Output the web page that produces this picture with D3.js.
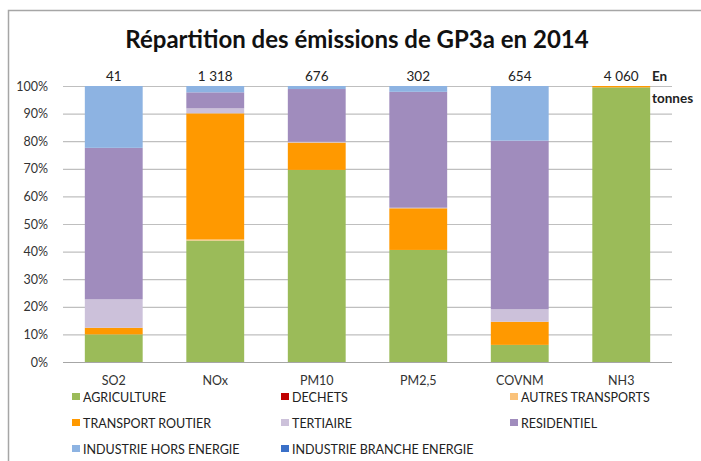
<!DOCTYPE html>
<html>
<head>
<meta charset="utf-8">
<script src="https://d3js.org/d3.v7.min.js"></script>
<style>
  body { margin: 0; background: #fff; }
  text { font-family: Lato, "Open Sans", sans-serif; fill: #222; }
</style>
</head>
<body>
<div id="chart"></div>
<script>
// polluants (categories)
var polluants = ["SO2", "NOx", "PM10", "PM2,5", "COVNM", "NH3"];
// totals in tonnes shown above the bars
var totaux = ["41", "1 318", "676", "302", "654", "4 060"];
// sectors, in stacking order (bottom to top)
var secteurs = ["AGRICULTURE", "DECHETS", "AUTRES TRANSPORTS", "TRANSPORT ROUTIER",
  "TERTIAIRE", "RESIDENTIEL", "INDUSTRIE HORS ENERGIE", "INDUSTRIE BRANCHE ENERGIE"];
var couleurs = ["#9bbb59", "#c00000", "#fac27a", "#ff9900",
  "#ccc1da", "#a08cbd", "#8db3e2", "#3a70c8"];
// shares (%) per sector, one value per polluant
var agriculture   = [10.0, 44.0, 69.6, 40.6,  6.2, 99.5];
var dechets       = [ 0.0,  0.0,  0.0,  0.0,  0.0,  0.0];
var autresTransp  = [ 0.0,  0.4,  0.0,  0.0,  0.0,  0.0];
var transport     = [ 2.4, 45.7,  9.9, 15.1,  8.4,  0.5];
var tertiaire     = [10.3,  1.8,  0.3,  0.2,  4.5,  0.0];
var residentiel   = [54.9,  5.8, 19.1, 42.0, 61.1,  0.0];
var industrieHors = [22.4,  2.3,  1.1,  2.1, 19.8,  0.0];
var industrieBr   = [ 0.0,  0.0,  0.0,  0.0,  0.0,  0.0];
var yTicks = [0, 10, 20, 30, 40, 50, 60, 70, 80, 90, 100];

var series = [agriculture, dechets, autresTransp, transport, tertiaire, residentiel, industrieHors, industrieBr];
var rows = polluants.map(function(p, i) {
  var r = { polluant: p };
  secteurs.forEach(function(s, k) { r[s] = series[k][i]; });
  return r;
});

var W = 701, H = 461;
var svg = d3.select("#chart").append("svg").attr("width", W).attr("height", H);

// frame
svg.append("rect").attr("x", 8.5).attr("y", 10.5).attr("width", 700).attr("height", 460)
  .attr("fill", "none").attr("stroke", "#a6a6a6").attr("stroke-width", 1.5);

svg.append("text").attr("x", 357).attr("y", 48).attr("text-anchor", "middle")
  .style("font-size", "24px").style("font-weight", "bold").style("fill", "#111")
  .text("Répartition des émissions de GP3a en 2014");

var x = d3.scaleBand().domain(polluants).range([63, 672]).paddingInner(0.43).paddingOuter(0.215);
var y = d3.scaleLinear().domain([0, 100]).range([362, 86]);

// gridlines
svg.append("g").selectAll("line").data(yTicks).enter().append("line")
  .attr("x1", 63).attr("x2", 672)
  .attr("y1", function(d) { return y(d) + 0.5; }).attr("y2", function(d) { return y(d) + 0.5; })
  .attr("stroke", function(d) { return d === 0 ? "#a6a6a6" : "#bfbfbf"; })
  .attr("stroke-width", 1.2);

// y axis labels
var yAxis = d3.axisLeft(y).tickValues(yTicks).tickFormat(function(d) { return d + "%"; })
  .tickSize(0).tickPadding(15);
var ga = svg.append("g").attr("transform", "translate(63,0)").call(yAxis);
ga.select(".domain").remove();
ga.selectAll("text").style("font-size", "12.5px").style("fill", "#333").attr("font-family", null);

// stacked bars
var stack = d3.stack().keys(secteurs);
var layers = stack(rows);
svg.append("g").selectAll("g").data(layers).enter().append("g")
  .attr("fill", function(d, k) { return couleurs[k]; })
  .selectAll("rect").data(function(d) { return d; }).enter().append("rect")
  .attr("x", function(d) { return x(d.data.polluant); })
  .attr("width", x.bandwidth())
  .attr("y", function(d) { return y(d[1]); })
  .attr("height", function(d) { return Math.max(0, y(d[0]) - y(d[1])); });

// totals on top
svg.append("g").selectAll("text").data(polluants).enter().append("text")
  .attr("x", function(d) { return x(d) + x.bandwidth() / 2; })
  .attr("y", 81).attr("text-anchor", "middle").style("font-size", "13.5px")
  .text(function(d, i) { return totaux[i]; });
svg.append("text").attr("x", 652).attr("y", 81).style("font-size", "13.5px").style("font-weight", "bold").text("En");
svg.append("text").attr("x", 652).attr("y", 103).style("font-size", "13.5px").style("font-weight", "bold").text("tonnes");

// x labels
var xAxis = d3.axisBottom(x).tickSize(0).tickPadding(14);
var gx = svg.append("g").attr("transform", "translate(0,362)").call(xAxis);
gx.select(".domain").remove();
gx.selectAll("text").style("font-size", "12.5px").style("fill", "#333").attr("font-family", null);

// legend
var legX = [72, 281, 510], legY = [397, 423, 449];
var leg = svg.append("g").selectAll("g").data(secteurs).enter().append("g")
  .attr("transform", function(d, k) { return "translate(" + legX[k % 3] + "," + legY[Math.floor(k / 3)] + ")"; });
leg.append("rect").attr("x", 0).attr("y", -4).attr("width", 8).attr("height", 7)
  .attr("fill", function(d, k) { return couleurs[k]; });
leg.append("text").attr("x", 11).attr("y", 4.5).style("font-size", "12.5px").style("fill", "#222")
  .text(function(d) { return d; });
</script>
</body>
</html>
